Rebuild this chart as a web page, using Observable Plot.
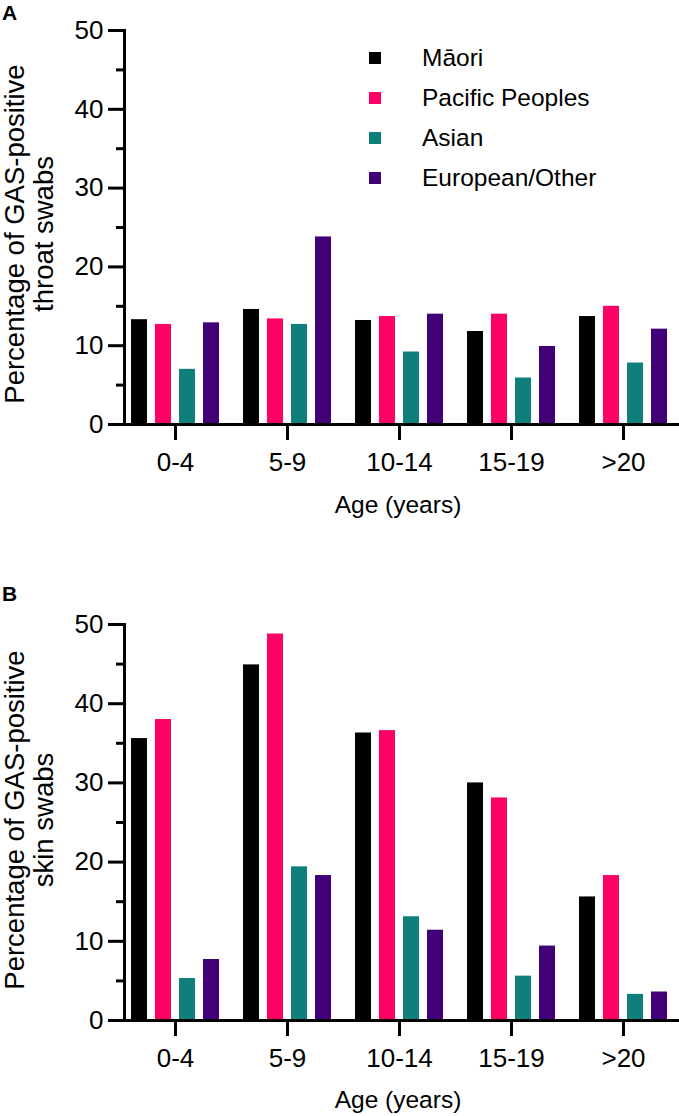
<!DOCTYPE html>
<html>
<head>
<meta charset="utf-8">
<script src="https://cdn.jsdelivr.net/npm/d3@7"></script>
<script src="https://cdn.jsdelivr.net/npm/@observablehq/plot@0.6"></script>
<style>
  body { margin: 0; background: #fff; font-family: "Liberation Sans", Arial, sans-serif; color: #000; }
  #fig { position: relative; width: 679px; height: 1116px; overflow: hidden; background: #fff; }
  .panel { position: absolute; left: 0; }
  .plabel { position: absolute; left: 2px; font-weight: bold; font-size: 21px; line-height: 21px; }
  .ytitle { position: absolute; transform: translate(-50%, -50%) rotate(-90deg); text-align: center;
            white-space: nowrap; font-size: 27.5px; line-height: 29px; }
  .xtitle { position: absolute; transform: translate(-50%, -50%); white-space: nowrap; font-size: 24.5px; line-height: 30px; }
  .legend { position: absolute; left: 369px; }
  .lrow { position: absolute; left: 0; height: 30px; display: flex; align-items: center; white-space: nowrap;
          font-size: 24.5px; line-height: 30px; }
  .lsw { width: 12px; height: 12px; margin-right: 41px; }
</style>
</head>
<body>
<div id="fig"></div>
<script>
// ---- data ----
const ages = ["0-4", "5-9", "10-14", "15-19", ">20"];
const ethnicities = ["Māori", "Pacific Peoples", "Asian", "European/Other"];
const colors = ["#000000", "#ff0066", "#0f7f7c", "#410078"];

const throatMaori    = [13.3, 14.6, 13.2, 11.8, 13.7];
const throatPacific  = [12.7, 13.4, 13.7, 14.0, 15.0];
const throatAsian    = [7.0, 12.7, 9.2, 5.9, 7.8];
const throatEuropean = [12.9, 23.8, 14.0, 9.9, 12.1];

const skinMaori    = [35.6, 44.9, 36.3, 30.0, 15.6];
const skinPacific  = [38.0, 48.8, 36.6, 28.1, 18.3];
const skinAsian    = [5.3, 19.4, 13.1, 5.6, 3.3];
const skinEuropean = [7.7, 18.3, 11.4, 9.4, 3.6];

const yMajorTicks = [0, 10, 20, 30, 40, 50];
const yMinorTicks = [5, 15, 25, 35, 45];

function tidy(series) {
  const rows = [];
  ages.forEach((age, i) => {
    ethnicities.forEach((eth, j) => rows.push({age, eth, value: series[j][i]}));
  });
  return rows;
}
const throatRows = tidy([throatMaori, throatPacific, throatAsian, throatEuropean]);
const skinRows = tidy([skinMaori, skinPacific, skinAsian, skinEuropean]);

const fig = document.getElementById("fig");

function makePanel(rows, cfg) {
  const chart = Plot.plot({
    width: 679,
    height: cfg.height,
    marginLeft: 123,
    marginRight: 5,
    marginTop: cfg.marginTop,
    marginBottom: cfg.marginBottom,
    style: {fontFamily: '"Liberation Sans", Arial, sans-serif', fontSize: "26px", color: "#000", background: "#fff", overflow: "visible"},
    fx: {domain: ages, paddingInner: 0.091, paddingOuter: 0, label: null},
    x: {domain: ethnicities, paddingInner: 0.32, paddingOuter: 0.24, axis: null},
    y: {domain: [0, 50], label: null},
    color: {domain: ethnicities, range: colors},
    marks: [
      Plot.barY(rows, {fx: "age", x: "eth", y: "value", fill: "eth"}),
      Plot.axisY({ticks: yMajorTicks, tickSize: 16, tickPadding: 5, strokeWidth: 3, fontSize: 26, label: null}),
      Plot.axisY({ticks: yMinorTicks, tickSize: 8, text: null, strokeWidth: 3, label: null}),
      Plot.axisFx({anchor: "bottom", tickSize: 16, tickPadding: 12, strokeWidth: 3, fontSize: 26, label: null}),
      Plot.frame({anchor: "bottom", facet: "super", strokeWidth: 3, insetRight: -3}),
      Plot.frame({anchor: "left", facet: "super", strokeWidth: 3})
    ]
  });
  const wrap = document.createElement("div");
  wrap.className = "panel";
  wrap.style.top = cfg.top + "px";
  wrap.appendChild(chart);
  fig.appendChild(wrap);

  const lab = document.createElement("div");
  lab.className = "plabel";
  lab.style.top = cfg.labelTop + "px";
  lab.textContent = cfg.letter;
  fig.appendChild(lab);

  const yt = document.createElement("div");
  yt.className = "ytitle";
  yt.style.left = "29px";
  yt.style.top = cfg.yTitleCenter + "px";
  yt.innerHTML = "Percentage of GAS-positive<br>" + cfg.yTitle2;
  fig.appendChild(yt);

  const xt = document.createElement("div");
  xt.className = "xtitle";
  xt.style.left = "398px";
  xt.style.top = cfg.xTitleCenter + "px";
  xt.textContent = "Age (years)";
  fig.appendChild(xt);
}

makePanel(throatRows, {top: 0, height: 560, marginTop: 30, marginBottom: 136, letter: "A", labelTop: 2,
  yTitle2: "throat swabs", yTitleCenter: 234, xTitleCenter: 505});
makePanel(skinRows, {top: 590, height: 526, marginTop: 34, marginBottom: 96, letter: "B", labelTop: 583,
  yTitle2: "skin swabs", yTitleCenter: 820, xTitleCenter: 1100});

// legend (panel A)
const legend = document.createElement("div");
legend.className = "legend";
legend.style.top = "0px";
const legendRowCenters = [58, 98, 138, 178];
ethnicities.forEach((eth, i) => {
  const row = document.createElement("div");
  row.className = "lrow";
  row.style.top = (legendRowCenters[i] - 15) + "px";
  const sw = document.createElement("div");
  sw.className = "lsw";
  sw.style.background = colors[i];
  const t = document.createElement("span");
  t.textContent = eth;
  row.appendChild(sw);
  row.appendChild(t);
  legend.appendChild(row);
});
fig.appendChild(legend);
</script>
</body>
</html>
